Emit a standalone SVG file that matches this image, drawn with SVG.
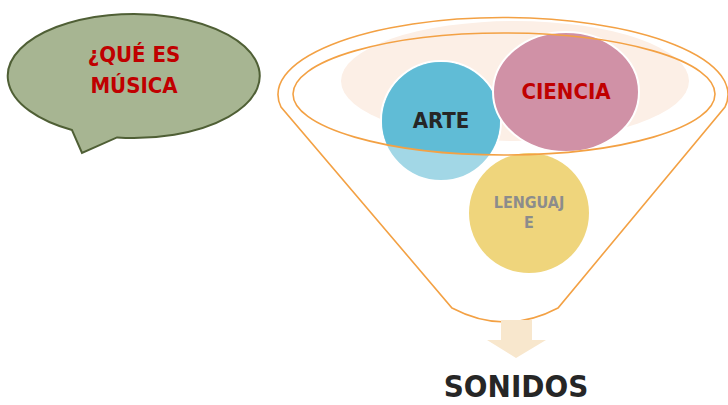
<svg xmlns="http://www.w3.org/2000/svg" width="728" height="405" viewBox="0 0 728 405">
<style>
.t{font-family:"DejaVu Sans Condensed","DejaVu Sans",sans-serif;font-weight:bold;text-anchor:middle}
.fl{fill:none;stroke:#f3a144;stroke-width:1.6}
.c{stroke:#fff;stroke-width:2}
</style>
<defs>
<clipPath id="inner"><ellipse cx="504" cy="94" rx="211" ry="61"/></clipPath>
</defs>
<rect width="728" height="405" fill="#fff"/>
<g id="bubble">
<path d="M72,130 A126,62 0 1 1 117,137.4 L82,153 Z" fill="#a7b592" stroke="#4f5f35" stroke-width="2"/>
<text class="t" x="134" y="62" font-size="22" fill="#c00000">¿QUÉ ES</text>
<text class="t" x="134" y="93" font-size="22" fill="#c00000">MÚSICA</text>
</g>
<g id="funnel-bg">
<ellipse cx="515" cy="81" rx="174" ry="60" fill="#fcefe6"/>
</g>
<g id="arte">
<circle cx="441" cy="121" r="60" class="c" fill="#a2d7e6"/>
<circle cx="441" cy="121" r="59" fill="#60bcd6" clip-path="url(#inner)"/>
<text class="t" x="441" y="128" font-size="22" fill="#262626">ARTE</text>
</g>
<g id="ciencia">
<ellipse cx="566" cy="92" rx="73" ry="60" class="c" fill="#d091a6"/>
<text class="t" x="566" y="99" font-size="22" fill="#c00000">CIENCIA</text>
</g>
<g id="lenguaje">
<circle cx="529" cy="213" r="60" fill="#efd57c"/>
<text class="t" x="529" y="208" font-size="16" fill="#8c8c8c">LENGUAJ</text>
<text class="t" x="529" y="228" font-size="16" fill="#8c8c8c">E</text>
</g>
<g id="funnel">
<path class="fl" d="M281,107 A225,77 0 1 1 725,107 L558,308 Q505,336 452,308 Z"/>
<ellipse class="fl" cx="504" cy="94" rx="211" ry="61"/>
</g>
<g id="connectors">
<path d="M501,320 H532 V340 H546 L516,358 L487,340 H501 Z" fill="#f8e7cd"/>
</g>
<g id="sonidos">
<text class="t" x="516" y="397" font-size="31" fill="#262626">SONIDOS</text>
</g>
</svg>
